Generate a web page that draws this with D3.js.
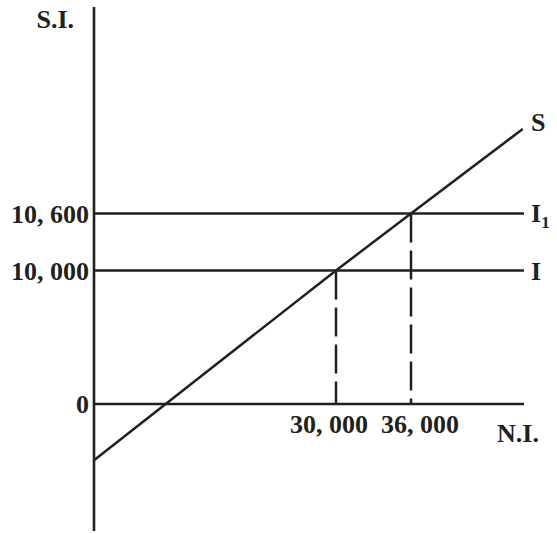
<!DOCTYPE html>
<html>
<head>
<meta charset="utf-8">
<script src="https://cdn.jsdelivr.net/npm/d3@7"></script>
<style>
  html, body { margin: 0; padding: 0; background: #fff; }
  svg text { font-family: "Liberation Serif", "Times New Roman", serif; font-weight: bold; fill: #231f20; }
</style>
</head>
<body>
<svg id="chart" width="557" height="534"></svg>
<script>
// ---- data (schematic, not to scale) ----
const xTickValues = [30000, 36000];
const xTickLabels = ["30, 000", "36, 000"];
const yTickValues = [0, 10000, 10600];
const yTickLabels = ["0", "10, 000", "10, 600"];
// investment schedules (horizontal)
const investNames = ["I", "I1"];
const investValues = [10000, 10600];
// saving schedule S
const savingX = [0, 30000, 36000, 44900];
const savingY = [-4200, 10000, 10600, 11500];
// equilibrium points (income, saving=investment)
const eqX = [30000, 36000];
const eqY = [10000, 10600];

const ink = "#231f20";
const fs = 26;
const svg = d3.select("#chart");

// piecewise (schematic) scales
const x = d3.scaleLinear().domain([0, 30000, 36000, 45000]).range([94, 336, 411, 524]);
const y = d3.scaleLinear().domain([-9500, 0, 10000, 10600, 12800]).range([531, 404, 270.5, 213.5, 7]);

// vertical axis
svg.append("line")
  .attr("x1", x(0)).attr("x2", x(0))
  .attr("y1", y(12800)).attr("y2", y(-9500))
  .attr("stroke", ink).attr("stroke-width", 2.6);

// horizontal axis (0 line)
svg.append("line")
  .attr("x1", x(0)).attr("x2", x(45000))
  .attr("y1", y(0)).attr("y2", y(0))
  .attr("stroke", ink).attr("stroke-width", 2.5);

// investment lines
svg.selectAll("line.inv").data(investValues).enter().append("line")
  .attr("class", "inv")
  .attr("x1", x(0)).attr("x2", x(45000))
  .attr("y1", d => y(d)).attr("y2", d => y(d))
  .attr("stroke", ink).attr("stroke-width", 2.5);

// dashed verticals
svg.selectAll("line.drop").data(eqX).enter().append("line")
  .attr("class", "drop")
  .attr("x1", d => x(d)).attr("x2", d => x(d))
  .attr("y1", (d, i) => y(eqY[i])).attr("y2", y(0))
  .attr("stroke", ink).attr("stroke-width", 2.5)
  .attr("stroke-dasharray", "29,8");

// saving line
const sData = savingX.map((v, i) => [v, savingY[i]]);
svg.append("path")
  .datum(sData)
  .attr("d", d3.line().x(d => x(d[0])).y(d => y(d[1])))
  .attr("fill", "none").attr("stroke", ink).attr("stroke-width", 2.5);

// y tick labels
svg.selectAll("text.ytick").data(yTickValues).enter().append("text")
  .attr("class", "ytick")
  .attr("x", x(0) - 5)
  .attr("y", d => y(d) + 9)
  .attr("text-anchor", "end")
  .attr("font-size", fs)
  .text((d, i) => yTickLabels[i]);

// x tick labels
const xOffsets = [-7, 9];
svg.selectAll("text.xtick").data(xTickValues).enter().append("text")
  .attr("class", "xtick")
  .attr("x", (d, i) => x(d) + xOffsets[i])
  .attr("y", y(0) + 29)
  .attr("text-anchor", "middle")
  .attr("font-size", fs)
  .text((d, i) => xTickLabels[i]);

// axis titles
svg.append("text").attr("x", 74).attr("y", 28).attr("text-anchor", "end")
  .attr("font-size", fs).text("S.I.");
svg.append("text").attr("x", 539).attr("y", 442).attr("text-anchor", "end")
  .attr("font-size", fs).text("N.I.");

// line labels
svg.append("text").attr("x", 531).attr("y", 131).attr("font-size", fs).text("S");
svg.append("text").attr("x", 531).attr("y", y(10000) + 9).attr("font-size", fs).text("I");
const i1 = svg.append("text").attr("x", 531).attr("y", y(10600) + 8).attr("font-size", fs);
i1.append("tspan").text("I");
i1.append("tspan").attr("font-size", 17).attr("dy", 6).text("1");
</script>
</body>
</html>
